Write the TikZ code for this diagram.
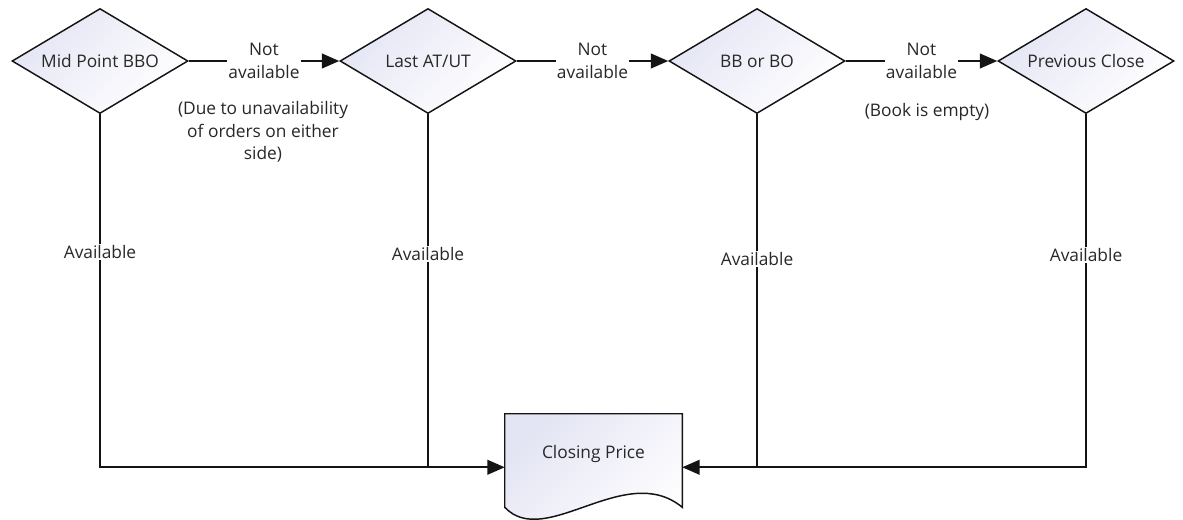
\documentclass[tikz,border=0pt]{standalone}
\usepackage{fontspec}
\setmainfont{Open Sans}
\usetikzlibrary{shapes.geometric,arrows.meta,calc}
\definecolor{linec}{RGB}{20,20,20}
\definecolor{txt}{RGB}{40,40,40}
\definecolor{shadec}{RGB}{228,229,244}
% decision text is centred without widening the diamond
\newcommand{\dtext}[1]{\makebox[0pt][c]{#1}}
\begin{document}
\begin{tikzpicture}[x=0.75pt,y=-0.75pt,
  every node/.style={font=\fontsize{13}{17}\selectfont, text=txt},
  decision/.style={diamond, draw=linec, line width=1.1pt, inner sep=0pt,
    minimum width=132pt, minimum height=78.75pt,
    top color=shadec, bottom color=white, shading angle=45},
  docbody/.style={rectangle, inner sep=0pt, minimum width=132.75pt,
    text height=33pt, text depth=36.75pt},
  docshape/.style={draw=linec, line width=1.1pt,
    top color=shadec, bottom color=white, shading angle=45},
  conn/.style={draw=linec, line width=1.35pt},
  flow/.style={conn, -{Triangle[length=13pt,width=11pt]}},
  lbl/.style={fill=white, align=center, inner xsep=1pt, inner ysep=1pt}]
\useasboundingbox (0,0) rectangle (1183,519);

% decisions
\node[decision] (mid)  at (100,61)  {\dtext{Mid Point BBO}};
\node[decision] (last) at (428,61)  {\dtext{Last AT/UT}};
\node[decision] (bbbo) at (757,61)  {\dtext{BB or BO}};
\node[decision] (prev) at (1086,61) {\dtext{Previous Close}};

% document (closing price)
\node[docbody] (close) at (593.5,460.5) {};
\path[docshape] (close.north west) -- (close.north east) -- (close.south east)
  .. controls ($(close.south east)+(-57,-47)$) and ($(close.south east)+(-137,43)$)
  .. (close.south west) -- cycle;
\node[docbody] (closetxt) at (close) {Closing Price};

% fallback chain
\draw[flow] (mid.east)  -- node[lbl] (na1) {Not\\available} (last.west);
\draw[flow] (last.east) -- node[lbl] (na2) {Not\\available} (bbbo.west);
\draw[flow] (bbbo.east) -- node[lbl] (na3) {Not\\available} (prev.west);

\node[lbl] (why1) at (263,132) {(Due to unavailability\\of orders on either\\side)};
\node[lbl] (why3) at (927,112) {(Book is empty)};

% available branches into the closing price
\coordinate (inL) at ($(close.south west)+(0,-40)$);
\coordinate (inR) at ($(close.south east)+(0,-40)$);
\draw[flow] (mid.south) -- node[lbl,pos=0.39] {Available} (mid.south |- inL) -- (inL);
\draw[conn] (last.south) -- node[lbl,pos=0.395] {Available} (last.south |- inL);
\draw[conn] (bbbo.south) -- node[lbl,pos=0.41] {Available} (bbbo.south |- inR);
\draw[flow] (prev.south) -- node[lbl,pos=0.40] {Available} (prev.south |- inR) -- (inR);
\end{tikzpicture}
\end{document}
